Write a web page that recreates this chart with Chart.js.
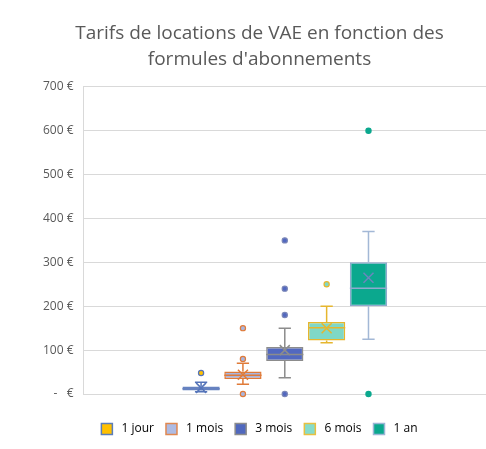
<!DOCTYPE html>
<html><head><meta charset="utf-8">
<script src="https://cdn.jsdelivr.net/npm/chart.js@4/dist/chart.umd.min.js"></script>
<style>html,body{margin:0;padding:0;background:#fff}#wrap{width:486px;height:449px}</style>
</head><body><div id="wrap"><canvas id="c" width="486" height="449"></canvas></div>
<script>
const series = ['1 jour', '1 mois', '3 mois', '6 mois', '1 an'];
const q1 = [8, 34, 75, 122, 200];
const median = [12, 43, 90, 151, 241];
const q3 = [17, 51, 107, 164, 300];
const mean = [14, 44, 100, 150, 265];
const whiskerMin = [5, 22, 37, 117, 125];
const whiskerMax = [27, 70, 150, 200, 370];
const outliers = [[48], [0, 80, 150], [0, 180, 240, 350], [250], [0, 600]];
const yTicks = [0, 100, 200, 300, 400, 500, 600, 700];

const boxFill = ['#4E6CAB', '#A9B5DE', '#5268C0', '#7FD8C6', '#0BA88E'];
const boxLine = ['#6682C0', '#E07B39', '#8C8C8C', '#E6B62E', '#8EA9CE'];
const whiskerCol = ['#5574B9', '#E07B39', '#8C8C8C', '#E6B62E', '#A3B8D6'];
const meanCol = ['#5574B9', '#E07B39', '#8C8C8C', '#E6B62E', '#6B86BD'];
const outFill = ['#FFC000', '#A9B5DE', '#5268C0', '#7FD8C6', '#0BA88E'];
const outLine = ['#5574B9', '#E07B39', '#7A86B8', '#E6B62E', '#0BA88E'];
const legendFill = ['#FFC000', '#AEBBE3', '#5068BE', '#86DCCB', '#0AA88E'];
const legendLine = ['#5B7DB8', '#E08850', '#8C8C8C', '#E8C040', '#9BB5D5'];

const boxExtras = {
  id: 'boxExtras',
  afterDatasetsDraw(chart) {
    const ctx = chart.ctx, y = chart.scales.y;
    series.forEach((s, i) => {
      const bar = chart.getDatasetMeta(i).data[0];
      const x = bar.x, w = bar.width, cap = w * 0.33;
      ctx.save();
      ctx.lineWidth = 1.5;
      ctx.strokeStyle = whiskerCol[i];
      ctx.beginPath();
      ctx.moveTo(x, y.getPixelForValue(q3[i])); ctx.lineTo(x, y.getPixelForValue(whiskerMax[i]));
      ctx.moveTo(x - cap / 2, y.getPixelForValue(whiskerMax[i])); ctx.lineTo(x + cap / 2, y.getPixelForValue(whiskerMax[i]));
      ctx.moveTo(x, y.getPixelForValue(q1[i])); ctx.lineTo(x, y.getPixelForValue(whiskerMin[i]));
      ctx.moveTo(x - cap / 2, y.getPixelForValue(whiskerMin[i])); ctx.lineTo(x + cap / 2, y.getPixelForValue(whiskerMin[i]));
      ctx.stroke();
      ctx.strokeStyle = boxLine[i];
      ctx.beginPath();
      const my = y.getPixelForValue(median[i]);
      ctx.moveTo(x - w / 2, my); ctx.lineTo(x + w / 2, my);
      ctx.stroke();
      ctx.strokeStyle = meanCol[i];
      const ay = y.getPixelForValue(mean[i]), r = 5;
      ctx.beginPath();
      ctx.moveTo(x - r, ay - r); ctx.lineTo(x + r, ay + r);
      ctx.moveTo(x + r, ay - r); ctx.lineTo(x - r, ay + r);
      ctx.stroke();
      outliers[i].forEach(v => {
        ctx.beginPath();
        ctx.arc(x, y.getPixelForValue(v), 2.6, 0, Math.PI * 2);
        ctx.fillStyle = outFill[i];
        ctx.fill();
        ctx.lineWidth = 1.2;
        ctx.strokeStyle = outLine[i];
        ctx.stroke();
      });
      ctx.restore();
    });
  }
};

new Chart(document.getElementById('c'), {
  type: 'bar',
  data: {
    labels: [''],
    datasets: series.map((s, i) => ({
      label: ' ' + s,
      data: [[q1[i], q3[i]]],
      backgroundColor: boxFill[i],
      borderColor: boxLine[i],
      borderWidth: 1.5,
      borderSkipped: false,
      barPercentage: 0.89,
      categoryPercentage: 0.52
    }))
  },
  options: {
    responsive: false,
    animation: false,
    layout: { padding: { left: 33, right: 0, top: 0, bottom: 4 } },
    plugins: {
      tooltip: { enabled: false },
      title: {
        display: true,
        text: ['Tarifs de locations de VAE en fonction des', "formules d'abonnements"],
        color: '#595959',
        font: { family: 'Open Sans', size: 19, weight: 'normal', lineHeight: 1.35 },
        padding: { top: 21, bottom: 14.5 }
      },
      legend: {
        position: 'bottom',
        labels: {
          boxWidth: 11, boxHeight: 11, padding: 12,
          color: '#595959',
          font: { family: 'Open Sans', size: 12 },
          generateLabels: (chart) => series.map((s, i) => ({
            text: ' ' + s, fillStyle: legendFill[i], strokeStyle: legendLine[i],
            lineWidth: 1.5, datasetIndex: i, hidden: false
          }))
        }
      }
    },
    scales: {
      x: {
        display: true,
        grid: { display: false, drawTicks: false },
        border: { display: false },
        ticks: { display: false },
        afterFit: (ax) => { ax.height = 17; }
      },
      y: {
        min: 0, max: 700,
        afterBuildTicks: (ax) => { ax.ticks = yTicks.map(v => ({ value: v })); },
        ticks: {
          color: '#595959', padding: 10,
          font: { family: 'Open Sans', size: 12 },
          callback: (v) => v === 0 ? '-   €' : v + ' €'
        },
        grid: { color: '#D9D9D9', drawTicks: false },
        border: { color: '#D9D9D9' }
      }
    }
  },
  plugins: [boxExtras]
});
</script></body></html>
